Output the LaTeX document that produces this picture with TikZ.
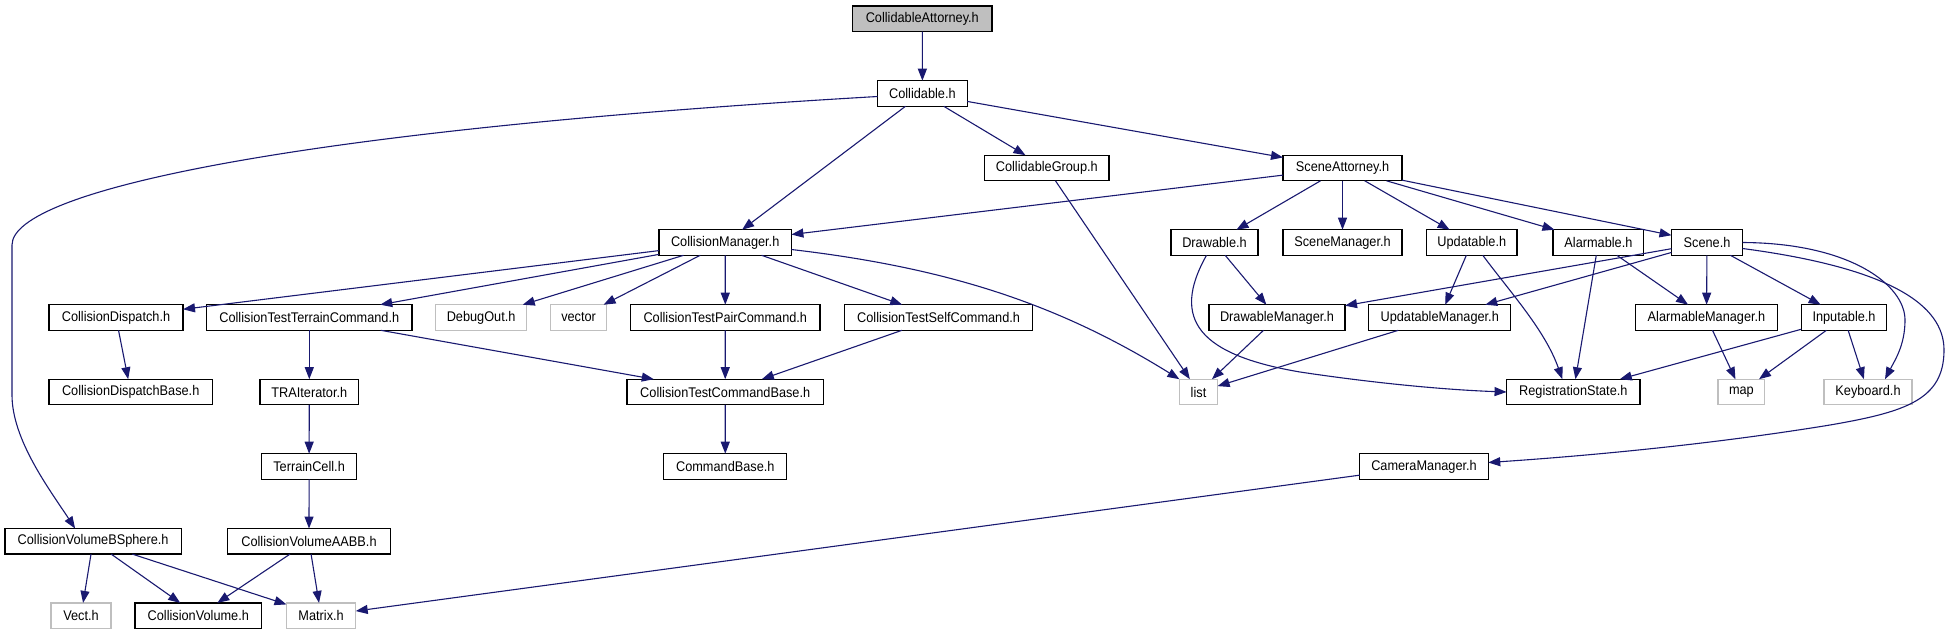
\documentclass[tikz,border=0pt]{standalone}
\usepackage{fontspec}
\setmainfont{Liberation Sans}[FakeStretch=0.91]
\usetikzlibrary{arrows.meta,calc}
\definecolor{edgeblue}{HTML}{191970}
\definecolor{gborder}{HTML}{BFBFBF}
\definecolor{gfill}{HTML}{BFBFBF}
\tikzset{
  box/.style={draw=black, line width=1.3pt, minimum height=25.6pt, inner sep=0pt, outer sep=0pt, font=\fontsize{14}{15}\selectfont},
  gbox/.style={box, draw=gborder},
  rootbox/.style={box, fill=gfill},
  edge/.style={draw=edgeblue, line width=1.1pt, -{Triangle[length=12pt,width=9pt]}},
}
\begin{document}
\begin{tikzpicture}[x=1pt,y=-1pt]
\useasboundingbox (0,0) rectangle (1950,635);
% row 0
\node[rootbox, minimum width=139.3pt] (CA) at (922.3,18.7) {CollidableAttorney.h};
% row 1
\node[box, minimum width=89.6pt] (Col) at (922.4,93.5) {Collidable.h};
% row 2
\node[box, minimum width=124.4pt] (CG) at (1046.8,168) {CollidableGroup.h};
\node[box, minimum width=119pt] (SA) at (1342.5,168) {SceneAttorney.h};
% row 3
\node[box, minimum width=132.4pt] (CM) at (725.2,242.5) {CollisionManager.h};
\node[box, minimum width=87pt] (Dr) at (1214.5,242.5) {Drawable.h};
\node[box, minimum width=119pt] (SM) at (1342.5,242.5) {SceneManager.h};
\node[box, minimum width=90.5pt] (Up) at (1471.8,242.5) {Updatable.h};
\node[box, minimum width=90.7pt] (Al) at (1598.4,242.5) {Alarmable.h};
\node[box, minimum width=71pt] (Sc) at (1707,242.5) {Scene.h};
% row 4
\node[box, minimum width=134pt] (CD) at (116,317.5) {CollisionDispatch.h};
\node[box, minimum width=205.5pt] (CTT) at (309.3,317.5) {CollisionTestTerrainCommand.h};
\node[gbox, minimum width=90.8pt] (DO) at (481.1,317.5) {DebugOut.h};
\node[gbox, minimum width=56pt] (vec) at (578.6,317.5) {vector};
\node[box, minimum width=189.4pt] (CTP) at (725.3,317.5) {CollisionTestPairCommand.h};
\node[box, minimum width=188.3pt] (CTS) at (938.6,317.5) {CollisionTestSelfCommand.h};
\node[box, minimum width=136pt] (DM) at (1277,317.5) {DrawableManager.h};
\node[box, minimum width=141.8pt] (UM) at (1439.7,317.5) {UpdatableManager.h};
\node[box, minimum width=141.4pt] (AM) at (1706.5,317.5) {AlarmableManager.h};
\node[box, minimum width=85.4pt] (In) at (1844,317.5) {Inputable.h};
% row 5
\node[box, minimum width=163.3pt] (CDB) at (130.7,392) {CollisionDispatchBase.h};
\node[box, minimum width=98.6pt] (TRA) at (309.3,392) {TRAIterator.h};
\node[box, minimum width=196.3pt] (CTCB) at (725.2,392) {CollisionTestCommandBase.h};
\node[gbox, minimum width=38.2pt] (list) at (1198.5,392) {list};
\node[box, minimum width=133.5pt] (RS) at (1573.3,392) {RegistrationState.h};
\node[gbox, minimum width=46.8pt] (map) at (1741.4,392) {map};
\node[gbox, minimum width=88pt] (KB) at (1868,392) {Keyboard.h};
% row 6
\node[box, minimum width=95pt] (TC) at (309.1,466.5) {TerrainCell.h};
\node[box, minimum width=123pt] (CB) at (725.3,466.5) {CommandBase.h};
\node[box, minimum width=128.5pt] (Cam) at (1424,466.5) {CameraManager.h};
% row 7
\node[box, minimum width=176.2pt] (BS) at (93.1,541.3) {CollisionVolumeBSphere.h};
\node[box, minimum width=163pt] (AABB) at (309,541.3) {CollisionVolumeAABB.h};
% row 8
\node[gbox, minimum width=60pt] (Vect) at (81,615.7) {Vect.h};
\node[box, minimum width=126.6pt] (CV) at (198.3,615.7) {CollisionVolume.h};
\node[gbox, minimum width=69.2pt] (Mat) at (321.1,615.7) {Matrix.h};

% edges
\draw[edge] (CA) -- (Col);
\draw[edge] ($(Col.west)+(0,3)$) .. controls (300,130) and (12,190) .. (12,245) -- (12,395) .. controls (12,440) and (50,490) .. ($(BS.north)+(-18,0)$);
\draw[edge] (Col) -- (CM);
\draw[edge] (Col) -- (CG);
\draw[edge] (Col) -- (SA);
\draw[edge] (CG) -- (list);
\draw[edge] (SA) -- (CM);
\draw[edge] (SA) -- (Dr);
\draw[edge] (SA) -- (SM);
\draw[edge] (SA) -- (Up);
\draw[edge] (SA) -- (Al);
\draw[edge] (SA) -- (Sc);
\draw[edge] (CM) -- (CD);
\draw[edge] (CM) -- (CTT);
\draw[edge] (CM) -- (DO);
\draw[edge] (CM) -- (vec);
\draw[edge] (CM) -- (CTP);
\draw[edge] (CM) -- (CTS);
\draw[edge] ($(CM.east)+(0,7)$) .. controls (950,268) and (1060,305) .. (list.north west);
\draw[edge] (Dr) -- (DM);
\draw[edge] ($(Dr.south)+(-8,0)$) .. controls (1170,320) and (1200,355) .. (1300,372) .. controls (1380,384) and (1450,390) .. (RS.west);
\draw[edge] (DM) -- (list);
\draw[edge] (Up) -- (UM);
\draw[edge] ($(Up.south)+(11,0)$) .. controls (1510,292) and (1545,330) .. ($(RS.north)+(-11,0)$);
\draw[edge] (Al) -- (AM);
\draw[edge] (Al) -- (RS);
\draw[edge] (Sc) -- (DM);
\draw[edge] (Sc) -- (UM);
\draw[edge] (Sc) -- (AM);
\draw[edge] (Sc) -- (In);
\draw[edge] (Sc.east) .. controls (1850,243) and (1905,285) .. (1905,320) .. controls (1905,345) and (1895,360) .. ($(KB.north)+(17,0)$);
\draw[edge] ($(Sc.east)+(0,6)$) .. controls (1890,268) and (1944,305) .. (1944,350) .. controls (1944,400) and (1905,412) .. (1830,425) .. controls (1720,443) and (1600,455) .. ($(Cam.east)+(0,-4)$);
\draw[edge] (In) -- (RS);
\draw[edge] (In) -- (map);
\draw[edge] (In) -- (KB);
\draw[edge] (AM) -- (map);
\draw[edge] (UM) -- (list);
\draw[edge] (Cam) -- (Mat);
\draw[edge] (CTT) -- (TRA);
\draw[edge] (CTT) -- (CTCB);
\draw[edge] (CTP) -- (CTCB);
\draw[edge] (CTS) -- (CTCB);
\draw[edge] (CTCB) -- (CB);
\draw[edge] (CD) -- (CDB);
\draw[edge] (TRA) -- (TC);
\draw[edge] (TC) -- (AABB);
\draw[edge] (BS) -- (Vect);
\draw[edge] (BS) -- (CV);
\draw[edge] (BS) -- (Mat);
\draw[edge] (AABB) -- (CV);
\draw[edge] (AABB) -- (Mat);
\end{tikzpicture}
\end{document}
